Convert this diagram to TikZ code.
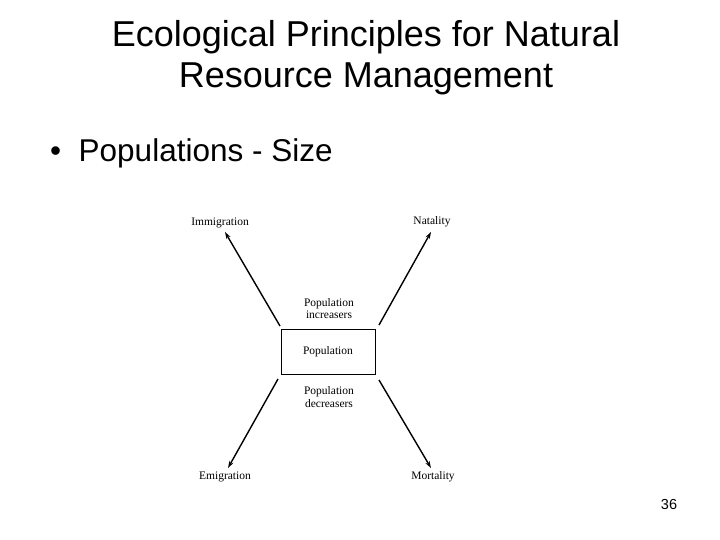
\documentclass[tikz,border=0pt]{standalone}
\usepackage{fontspec}
\setmainfont{Liberation Sans}
\newfontfamily\diagfont{Liberation Serif}
\usetikzlibrary{arrows.meta}
\begin{document}
\begin{tikzpicture}[x=1pt,y=-1pt,
  title/.style={font=\fontsize{36}{41}\selectfont, align=center},
  lab/.style={font=\diagfont\fontsize{11.5}{12.5}\selectfont, align=center, inner sep=0pt},
  conn/.style={line width=1.4pt, -{Stealth[length=7pt,width=4.5pt]}}]
\useasboundingbox (0,0) rectangle (720,540);
\node[title] (t) at (366,58) {Ecological Principles for Natural\\Resource Management};
\node[anchor=west, font=\fontsize{31.5}{36}\selectfont, inner sep=0pt] (b) at (50,153) {\textbullet\ \ Populations - Size};
\node[draw, line width=1pt, minimum width=94pt, minimum height=45pt, lab] (pop) at (328,351.5) {Population};
\node[lab] (inc) at (329,308.5) {Population\\increasers};
\node[lab] (dec) at (329,397) {Population\\decreasers};
\node[lab] (imm) at (220,222.5) {Immigration};
\node[lab] (nat) at (432,222) {Natality};
\node[lab] (emi) at (225,477) {Emigration};
\node[lab] (mor) at (433,476.5) {Mortality};
\coordinate (s1) at (280,326);
\coordinate (s2) at (379,325);
\coordinate (s3) at (278,379);
\coordinate (s4) at (379,380);
\coordinate (e1) at (225,232);
\coordinate (e2) at (431,232);
\coordinate (e3) at (228,468);
\coordinate (e4) at (431,468);
\draw[conn] (s1) -- (e1);
\draw[conn] (s2) -- (e2);
\draw[conn] (s3) -- (e3);
\draw[conn] (s4) -- (e4);
\node[font=\fontsize{14.5}{16}\selectfont] (num) at (669,505) {36};
\end{tikzpicture}
\end{document}
